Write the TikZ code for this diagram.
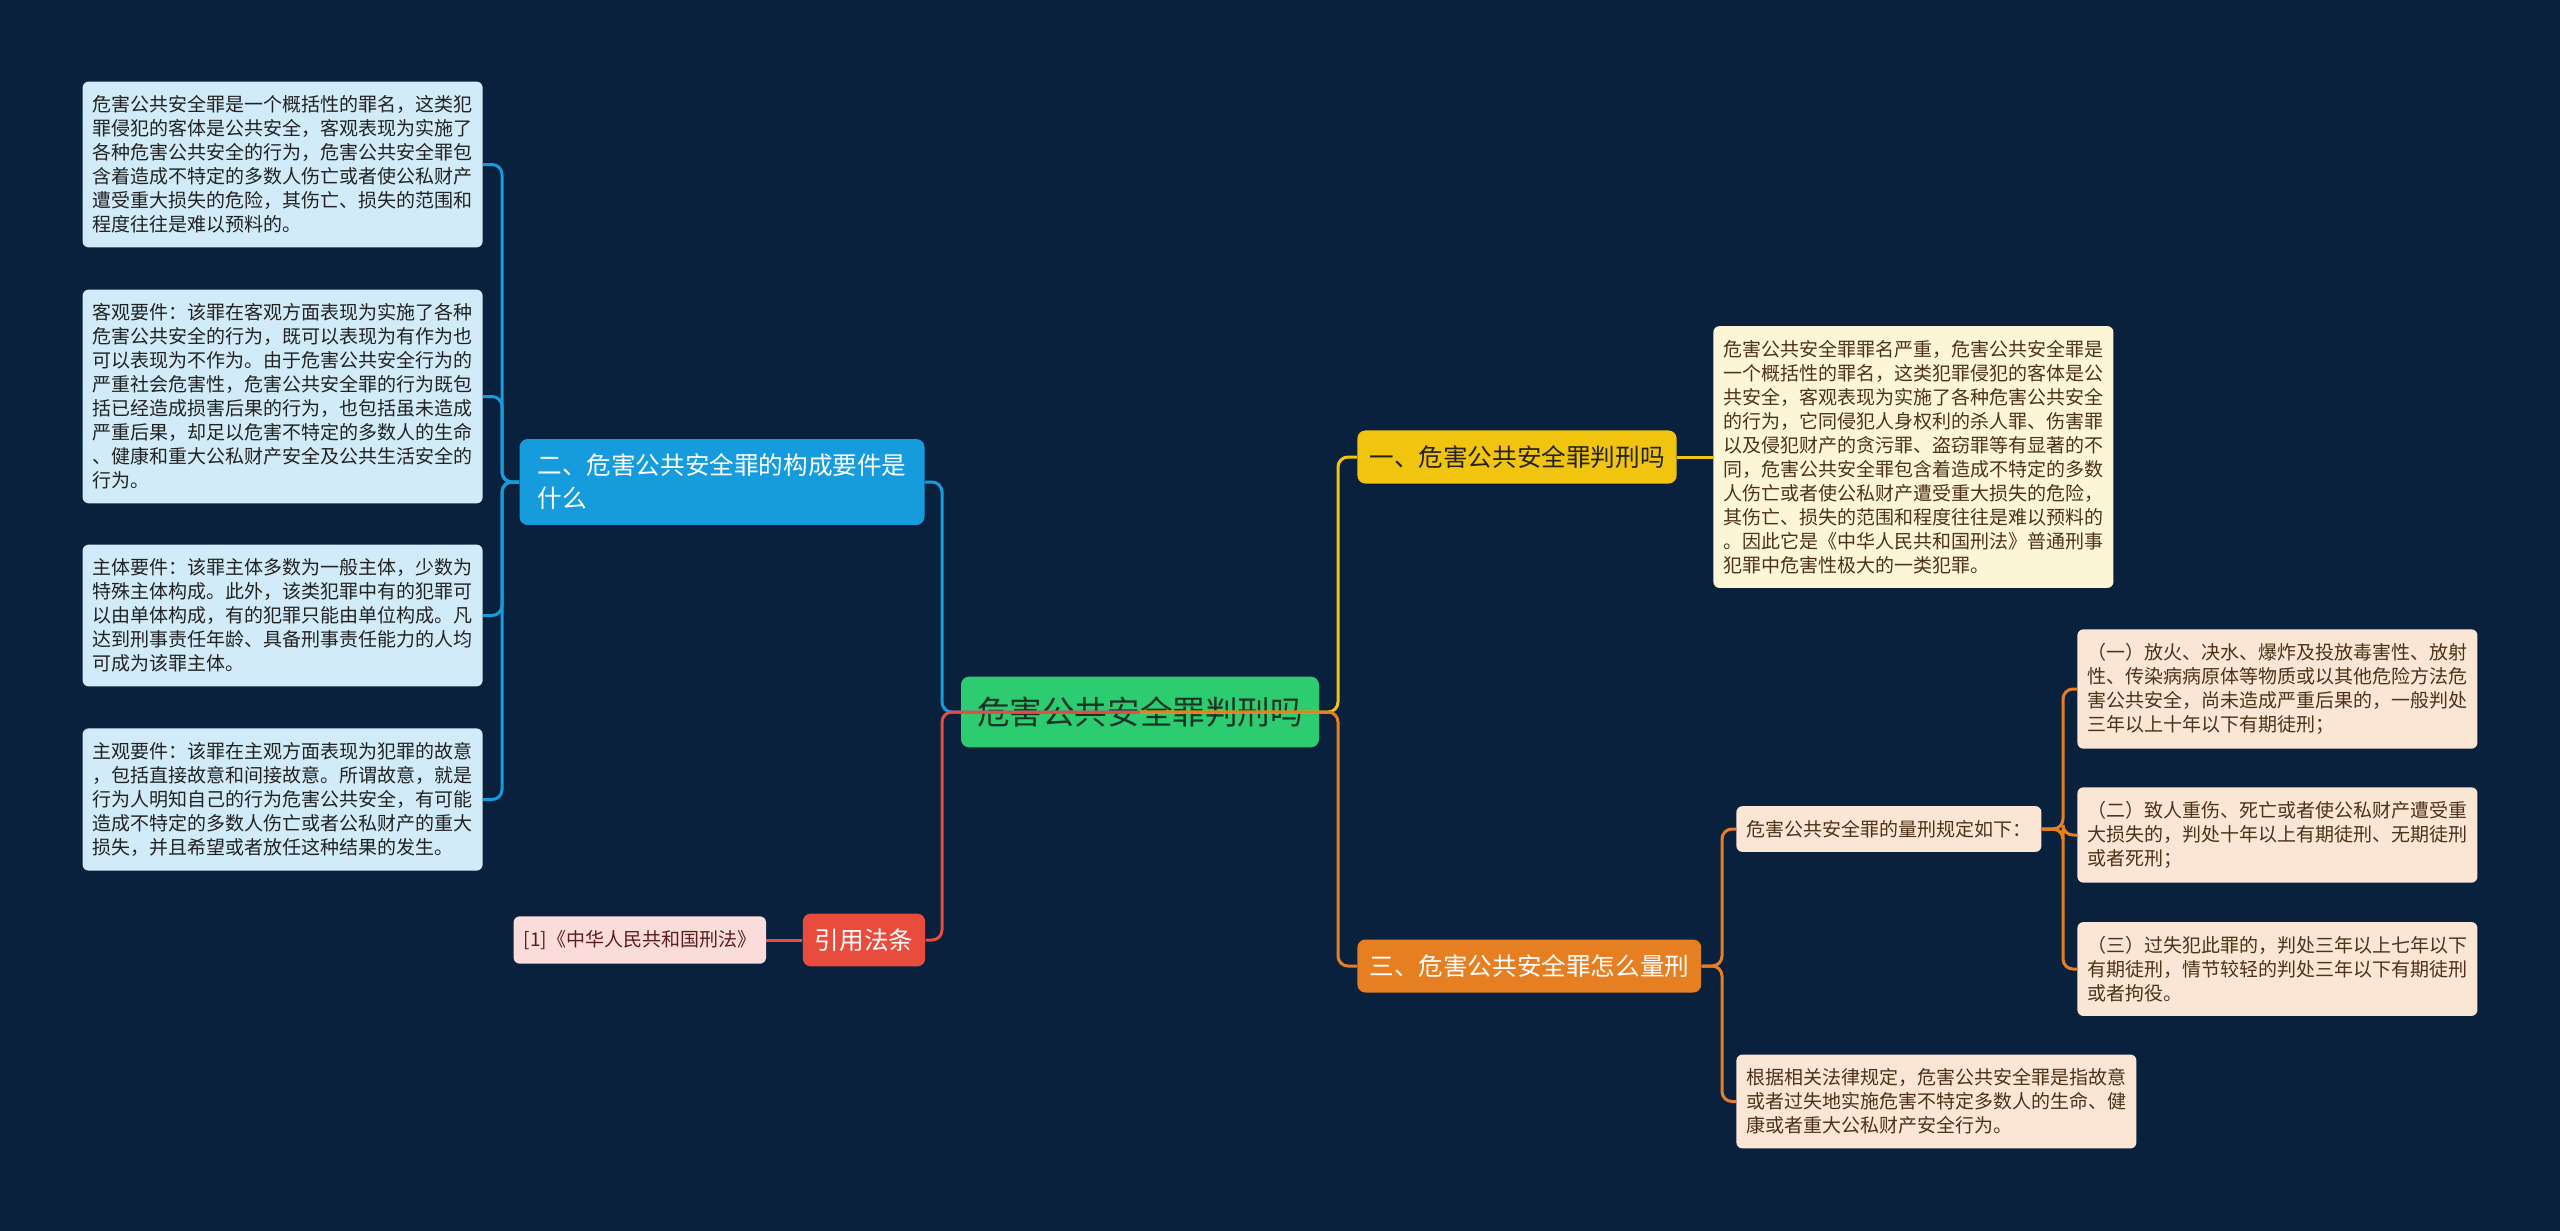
\documentclass[tikz,border=0pt]{standalone}
\usepackage{fontspec}
\setmainfont{Noto Sans CJK SC}
\usepackage{xcolor}
\usepackage{tikz}
\usetikzlibrary{positioning,calc}
\definecolor{bgnavy}{RGB}{10,33,62}
\definecolor{rootgreen}{RGB}{46,204,113}
\definecolor{rootink}{RGB}{24,52,36}
\definecolor{topicblue}{RGB}{22,155,220}
\definecolor{topicyellow}{RGB}{241,196,15}
\definecolor{topicorange}{RGB}{230,126,34}
\definecolor{topicred}{RGB}{231,76,60}
\definecolor{leafblue}{RGB}{210,235,248}
\definecolor{leafcream}{RGB}{253,246,214}
\definecolor{leafpeach}{RGB}{251,230,214}
\definecolor{leafpink}{RGB}{250,221,218}
\definecolor{inkdark}{RGB}{34,34,34}
\definecolor{inkbrown}{RGB}{78,50,22}
\definecolor{inkred}{RGB}{92,28,28}

\begin{document}
\begin{tikzpicture}[
  x=0.5pt, y=-0.5pt,
  every node/.style={font=\fontsize{9.5pt}{12pt}\selectfont},
  root/.style={fill=rootgreen, text=rootink, rounded corners=4pt, font=\fontsize{16.3pt}{18pt}\selectfont, inner xsep=8pt, inner ysep=10pt},
  topic/.style={rounded corners=4pt, align=left, font=\fontsize{12.3pt}{16.5pt}\selectfont, inner xsep=6pt, inner ysep=7.5pt},
  leaf/.style={rounded corners=3pt, align=left, inner xsep=5pt, inner ysep=7pt},
  link/.style={line width=1.5pt, rounded corners=5pt}
]
\fill[bgnavy] (0,0) rectangle (2560,1231);

% centre and main topics
\node[root] (root) at (1140,712) {危害公共安全罪判刑吗};
\node[topic, fill=topicblue, text=white, inner xsep=9pt] (q2) at (722,482) {二、危害公共安全罪的构成要件是\\什么};
\node[topic, fill=topicred, text=white] (cite) at (864,940) {引用法条};
\node[topic, fill=topicyellow, text=inkdark, anchor=west] (q1) at (1357,457) {一、危害公共安全罪判刑吗};
\node[topic, fill=topicorange, text=white, anchor=west] (q3) at (1357,966) {三、危害公共安全罪怎么量刑};

% left leaves
\node[leaf, fill=leafblue, text=inkdark, anchor=east] (k1) at (483,164.5) {危害公共安全罪是一个概括性的罪名，这类犯\\罪侵犯的客体是公共安全，客观表现为实施了\\各种危害公共安全的行为，危害公共安全罪包\\含着造成不特定的多数人伤亡或者使公私财产\\遭受重大损失的危险，其伤亡、损失的范围和\\程度往往是难以预料的。};
\node[leaf, fill=leafblue, text=inkdark, anchor=east] (k2) at (483,396.5) {客观要件：该罪在客观方面表现为实施了各种\\危害公共安全的行为，既可以表现为有作为也\\可以表现为不作为。由于危害公共安全行为的\\严重社会危害性，危害公共安全罪的行为既包\\括已经造成损害后果的行为，也包括虽未造成\\严重后果，却足以危害不特定的多数人的生命\\、健康和重大公私财产安全及公共生活安全的\\行为。};
\node[leaf, fill=leafblue, text=inkdark, anchor=east] (k3) at (483,615.5) {主体要件：该罪主体多数为一般主体，少数为\\特殊主体构成。此外，该类犯罪中有的犯罪可\\以由单体构成，有的犯罪只能由单位构成。凡\\达到刑事责任年龄、具备刑事责任能力的人均\\可成为该罪主体。};
\node[leaf, fill=leafblue, text=inkdark, anchor=east] (k4) at (483,799.5) {主观要件：该罪在主观方面表现为犯罪的故意\\，包括直接故意和间接故意。所谓故意，就是\\行为人明知自己的行为危害公共安全，有可能\\造成不特定的多数人伤亡或者公私财产的重大\\损失，并且希望或者放任这种结果的发生。};
\node[leaf, fill=leafpink, text=inkred, left=18pt of cite] (law) {[1]《中华人民共和国刑法》};

% right leaves
\node[leaf, fill=leafcream, text=inkbrown, right=18pt of q1] (r1) {危害公共安全罪罪名严重，危害公共安全罪是\\一个概括性的罪名，这类犯罪侵犯的客体是公\\共安全，客观表现为实施了各种危害公共安全\\的行为，它同侵犯人身权利的杀人罪、伤害罪\\以及侵犯财产的贪污罪、盗窃罪等有显著的不\\同，危害公共安全罪包含着造成不特定的多数\\人伤亡或者使公私财产遭受重大损失的危险，\\其伤亡、损失的范围和程度往往是难以预料的\\。因此它是《中华人民共和国刑法》普通刑事\\犯罪中危害性极大的一类犯罪。};
\node[leaf, fill=leafpeach, text=inkbrown, anchor=west] (s1) at (1736,829) {危害公共安全罪的量刑规定如下：};
\node[leaf, fill=leafpeach, text=inkbrown, anchor=west] (s2) at (1736,1101.5) {根据相关法律规定，危害公共安全罪是指故意\\或者过失地实施危害不特定多数人的生命、健\\康或者重大公私财产安全行为。};
\node[leaf, fill=leafpeach, text=inkbrown, anchor=west] (p1) at (2077,689) {（一）放火、决水、爆炸及投放毒害性、放射\\性、传染病病原体等物质或以其他危险方法危\\害公共安全，尚未造成严重后果的，一般判处\\三年以上十年以下有期徒刑；};
\node[leaf, fill=leafpeach, text=inkbrown, anchor=west] (p2) at (2077,835) {（二）致人重伤、死亡或者使公私财产遭受重\\大损失的，判处十年以上有期徒刑、无期徒刑\\或者死刑；};
\node[leaf, fill=leafpeach, text=inkbrown, anchor=west] (p3) at (2077,969) {（三）过失犯此罪的，判处三年以上七年以下\\有期徒刑，情节较轻的判处三年以下有期徒刑\\或者拘役。};

% branch points
\coordinate (jl) at (942,712);
\coordinate (jr) at (1338,712);
\coordinate (jq2) at (502,482);
\coordinate (jq3) at (1722,966);
\coordinate (js1) at (2063,829);

% connectors
\foreach \k in {k1,k2,k3,k4}
  \draw[link, topicblue] (q2.west) -- (q2.west -| jq2) |- (\k.east);
\draw[link, topicred] (cite.west) -- (law.east);
\draw[link, topicyellow] (q1.east) -- (r1.west |- q1.east);
\foreach \k in {s1,s2}
  \draw[link, topicorange] (q3.east) -- (q3.east -| jq3) |- (\k.west);
\foreach \k in {p1,p2,p3}
  \draw[link, topicorange] (s1.east) -- (s1.east -| js1) |- (\k.west);
\draw[link, topicblue] (root.center) -- (root.center -| jl) |- (q2.east);
\draw[link, topicyellow] (root.center) -- (root.center -| jr) |- (q1.west);
\draw[link, topicred] (root.center) -- (root.center -| jl) |- (cite.east);
\draw[link, topicorange] (root.center) -- (root.center -| jr) |- (q3.west);
\end{tikzpicture}
\end{document}
